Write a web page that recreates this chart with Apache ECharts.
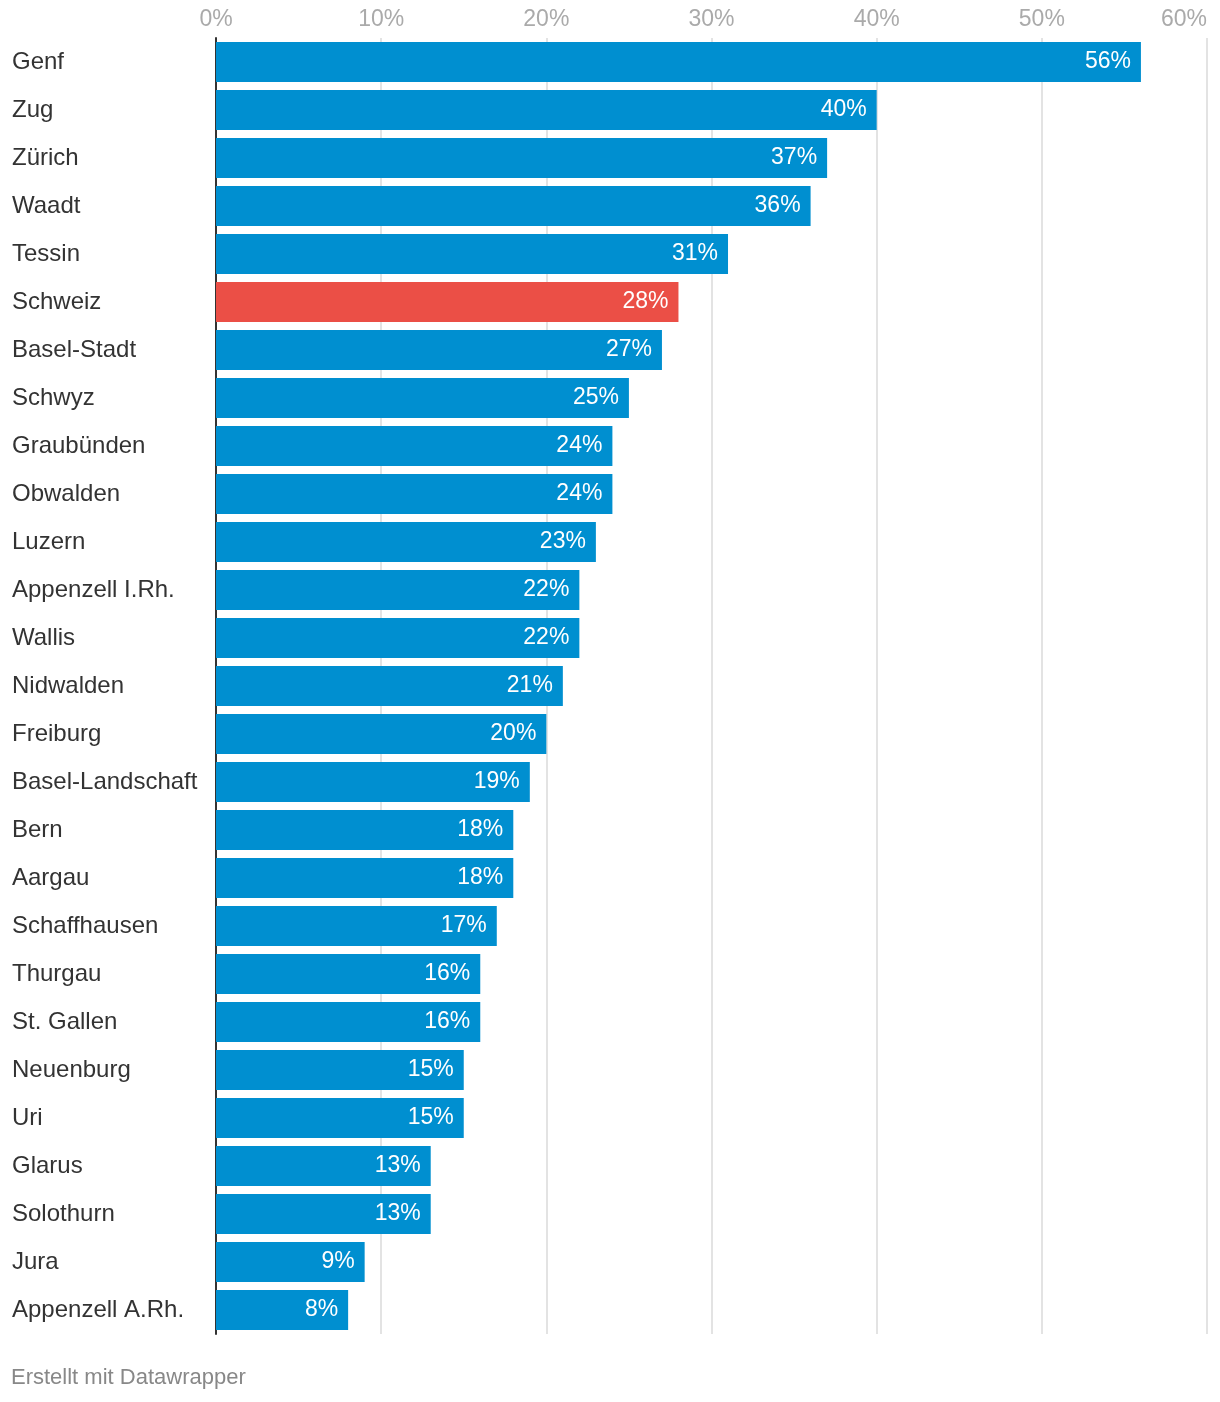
<!DOCTYPE html>
<html>
<head>
<meta charset="utf-8">
<script src="https://cdn.jsdelivr.net/npm/echarts@6/dist/echarts.min.js"></script>
<style>
html,body{margin:0;padding:0;background:#fff;}
#chart{width:1220px;height:1402px;}
</style>
</head>
<body>
<div id="chart"></div>
<script>
const categories = ["Genf","Zug","Zürich","Waadt","Tessin","Schweiz","Basel-Stadt","Schwyz","Graubünden","Obwalden","Luzern","Appenzell I.Rh.","Wallis","Nidwalden","Freiburg","Basel-Landschaft","Bern","Aargau","Schaffhausen","Thurgau","St. Gallen","Neuenburg","Uri","Glarus","Solothurn","Jura","Appenzell A.Rh."];
const values = [56,40,37,36,31,28,27,25,24,24,23,22,22,21,20,19,18,18,17,16,16,15,15,13,13,9,8];
const highlight = "Schweiz";
const xTicks = [0,10,20,30,40,50,60];

const FONT = "'Liberation Sans', Arial, Helvetica, sans-serif";
const chart = echarts.init(document.getElementById('chart'), null, {renderer:'canvas'});
chart.setOption({
  animation:false,
  backgroundColor:'#fff',
  grid:{left:216, right:13, top:38, bottom:68, containLabel:false, outerBoundsMode:'none'},
  xAxis:{
    type:'value', min:xTicks[0], max:xTicks[xTicks.length-1], interval:xTicks[1]-xTicks[0], position:'top',
    axisLine:{show:false}, axisTick:{show:false},
    splitLine:{show:true, lineStyle:{color:'#e3e3e3', width:2}},
    axisLabel:{formatter:v=>v+'%', color:'#aaaaaa', fontSize:23, fontFamily:FONT, margin:7, alignMaxLabel:'right'}
  },
  yAxis:{
    type:'category', data:categories, inverse:true,
    axisLine:{show:true, lineStyle:{color:'#333333', width:2}},
    axisTick:{show:false},
    axisLabel:{align:'left', margin:204, color:'#333333', fontSize:24, fontFamily:FONT}
  },
  series:[{
    type:'bar',
    data:values.map((v,i)=>({value:v, itemStyle:{color: categories[i]===highlight ? '#eb4f46' : '#008fd0'}})),
    barCategoryGap:'16.7%',
    label:{show:true, position:'insideRight', distance:10, formatter:p=>p.value+'%', color:'#ffffff', fontSize:23, fontFamily:FONT}
  }],
  graphic:[{type:'text', left:11, top:1367, style:{text:'Erstellt mit Datawrapper', fill:'#888888', fontSize:22, fontFamily:FONT}}]
});
</script>
</body>
</html>
